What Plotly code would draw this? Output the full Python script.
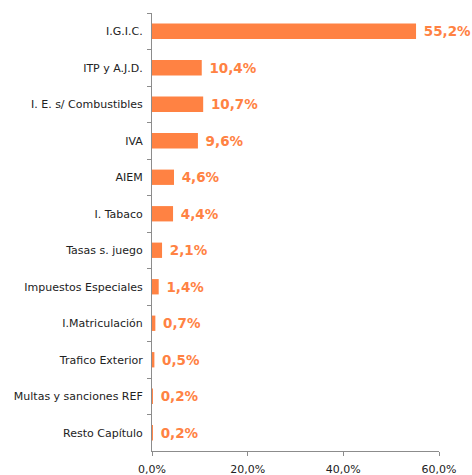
import plotly.graph_objects as go

categories = ["I.G.I.C.", "ITP y A.J.D.", "I. E. s/ Combustibles", "IVA", "AIEM", "I. Tabaco",
              "Tasas s. juego", "Impuestos Especiales", "I.Matriculación", "Trafico Exterior",
              "Multas y sanciones REF", "Resto Capítulo"]
values = [55.2, 10.4, 10.7, 9.6, 4.6, 4.4, 2.1, 1.4, 0.7, 0.5, 0.2, 0.2]
x_ticks = [0, 20, 40, 60]
x_tick_labels = ["0,0%", "20,0%", "40,0%", "60,0%"]

labels = [" " + f"{v:.1f}".replace(".", ",") + "%" for v in values]

BAR = "#FF8243"
AXIS = "#8C8C8C"

fig = go.Figure(go.Bar(
    x=values, y=categories, orientation="h",
    marker=dict(color=BAR, line=dict(width=0)),
    width=0.42,
    text=labels, textposition="outside", cliponaxis=False, constraintext="none",
    textfont=dict(family="DejaVu Sans", size=13.5, color=BAR, weight="bold"),
    hoverinfo="skip",
))

fig.update_layout(
    width=472, height=475,
    margin=dict(l=151.5, r=32.5, t=13, b=24, pad=0, autoexpand=False),
    paper_bgcolor="white", plot_bgcolor="white",
    showlegend=False,
    font=dict(family="DejaVu Sans", size=11, color="#222222"),
    xaxis=dict(range=[0, 60], tickvals=x_ticks, ticktext=x_tick_labels, automargin=False,
               showgrid=False, zeroline=False, showline=True, linecolor=AXIS, linewidth=1,
               ticks="outside", ticklen=4, tickcolor=AXIS, ticklabelstandoff=4,
               tickfont=dict(size=11, color="#222222")),
    yaxis=dict(autorange="reversed", type="category", tickson="boundaries", automargin=False,
               showgrid=False, zeroline=False, showline=True, linecolor=AXIS, linewidth=1,
               ticks="outside", ticklen=4, tickcolor=AXIS, ticklabelstandoff=6,
               tickfont=dict(size=11, color="#222222")),
)

fig.write_html("out.html", config={"displayModeBar": False, "staticPlot": True},
               post_script="document.body.style.margin='0';document.body.style.overflow='hidden';")
